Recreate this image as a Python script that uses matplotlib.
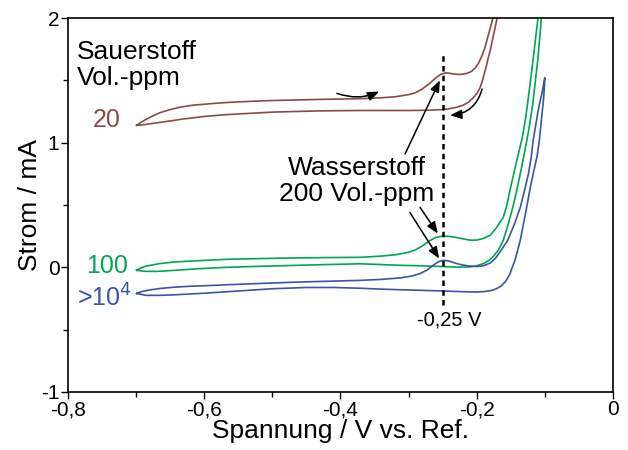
"""Cyclic voltammograms for three oxygen concentrations with hydrogen peak."""
import matplotlib
matplotlib.use('Agg')
import matplotlib.pyplot as plt
from matplotlib.ticker import MultipleLocator, FormatStrFormatter

plt.rcParams['font.family'] = ['Liberation Sans', 'DejaVu Sans']
plt.rcParams['axes.unicode_minus'] = False

BROWN = '#8a4a4a'
GREEN = '#00a651'
BLUE = '#3a55a5'

# 20 Vol.-ppm oxygen: forward scan then return scan
o2_20_x = [-0.699, -0.692, -0.684, -0.675, -0.665, -0.65, -0.635, -0.617,
           -0.59, -0.567, -0.53, -0.50, -0.46, -0.43, -0.40, -0.37, -0.34,
           -0.32, -0.30, -0.29, -0.28, -0.27, -0.26, -0.252, -0.245, -0.238,
           -0.23, -0.222, -0.215, -0.208, -0.202, -0.197, -0.192, -0.188,
           -0.184, -0.180, -0.176, -0.172, -0.169,
           -0.168, -0.170, -0.173, -0.177, -0.180, -0.183, -0.186, -0.189,
           -0.192, -0.195, -0.199, -0.205, -0.212, -0.22, -0.23, -0.24,
           -0.249, -0.27, -0.30, -0.37, -0.43, -0.50, -0.567, -0.60, -0.63,
           -0.655, -0.675, -0.69, -0.699]
o2_20_y = [1.139, 1.165, 1.19, 1.215, 1.24, 1.265, 1.285, 1.30,
           1.313, 1.322, 1.332, 1.338, 1.343, 1.347, 1.35, 1.353, 1.36,
           1.368, 1.385, 1.40, 1.43, 1.47, 1.52, 1.55, 1.56, 1.555,
           1.548, 1.548, 1.555, 1.57, 1.60, 1.64, 1.70, 1.76,
           1.84, 1.92, 2.0, 2.1, 2.18,
           2.1, 2.0, 1.92, 1.82, 1.74, 1.68, 1.61, 1.55,
           1.49, 1.44, 1.40, 1.36, 1.325, 1.30, 1.283, 1.272,
           1.266, 1.26, 1.258, 1.258, 1.255, 1.245, 1.225, 1.21, 1.19,
           1.17, 1.155, 1.143, 1.139]

# 100 Vol.-ppm oxygen
o2_100_x = [-0.699, -0.693, -0.685, -0.675, -0.665, -0.645, -0.62, -0.59,
            -0.567, -0.52, -0.47, -0.42, -0.371, -0.34, -0.32, -0.30, -0.29,
            -0.28, -0.27, -0.26, -0.25, -0.24, -0.23, -0.22, -0.21, -0.20,
            -0.19, -0.18, -0.172, -0.166, -0.161, -0.156, -0.151, -0.146,
            -0.141, -0.137, -0.133, -0.128, -0.122, -0.116, -0.110, -0.106,
            -0.103, -0.105, -0.110, -0.117, -0.122, -0.127, -0.132, -0.136,
            -0.141, -0.147, -0.154, -0.161, -0.168, -0.175, -0.182, -0.19,
            -0.20, -0.21, -0.23, -0.249, -0.28, -0.312, -0.34, -0.371, -0.42,
            -0.47, -0.52, -0.567, -0.61, -0.645, -0.67, -0.688, -0.699]
o2_100_y = [-0.024, -0.005, 0.01, 0.02, 0.03, 0.042, 0.05, 0.058,
            0.064, 0.07, 0.075, 0.078, 0.08, 0.09, 0.10, 0.12, 0.14,
            0.17, 0.21, 0.24, 0.25, 0.248, 0.24, 0.228, 0.218, 0.218,
            0.232, 0.257, 0.31, 0.36, 0.40, 0.49, 0.62, 0.74,
            0.86, 0.95, 1.04, 1.2, 1.45, 1.72, 2.0, 2.2,
            2.2, 2.0, 1.68, 1.34, 1.15, 1.0, 0.86, 0.75,
            0.62, 0.48, 0.34, 0.216, 0.14, 0.09, 0.055, 0.03,
            0.012, 0.003, 0.002, 0.006, 0.012, 0.016, 0.022, 0.028, 0.022,
            0.015, 0.008, 0.0, -0.012, -0.025, -0.033, -0.032, -0.024]

# >10^4 Vol.-ppm oxygen
o2_1e4_x = [-0.699, -0.693, -0.685, -0.675, -0.665, -0.645, -0.62, -0.59,
            -0.567, -0.52, -0.47, -0.42, -0.371, -0.34, -0.312, -0.295,
            -0.283, -0.272, -0.264, -0.256, -0.249, -0.242, -0.235, -0.228,
            -0.22, -0.21, -0.20, -0.19, -0.18, -0.172, -0.165, -0.155,
            -0.145, -0.136, -0.13, -0.124, -0.12, -0.117, -0.113, -0.110,
            -0.107, -0.104, -0.102, -0.100,
            -0.1005, -0.102, -0.105, -0.108, -0.111, -0.115, -0.119, -0.122,
            -0.128, -0.136, -0.143, -0.151, -0.157, -0.164, -0.172, -0.18,
            -0.19, -0.20, -0.22, -0.249, -0.28, -0.312, -0.34, -0.371, -0.41,
            -0.45, -0.50, -0.55, -0.60, -0.64, -0.665, -0.685, -0.699]
o2_1e4_y = [-0.21, -0.197, -0.187, -0.178, -0.17, -0.16, -0.152, -0.146,
            -0.14, -0.13, -0.12, -0.112, -0.105, -0.097, -0.085, -0.07,
            -0.05, -0.02, 0.016, 0.045, 0.056, 0.052, 0.04, 0.028,
            0.018, 0.01, 0.006, 0.012, 0.035, 0.075, 0.13, 0.21,
            0.34, 0.48, 0.61, 0.75, 0.88, 1.02, 1.15, 1.25,
            1.33, 1.40, 1.46, 1.52,
            1.45, 1.34, 1.18, 1.02, 0.90, 0.80, 0.70, 0.62,
            0.44, 0.216, 0.07, -0.05, -0.11, -0.15, -0.175, -0.188,
            -0.195, -0.198, -0.196, -0.19, -0.185, -0.18, -0.175, -0.168,
            -0.162, -0.162, -0.172, -0.19, -0.208, -0.22, -0.225, -0.225, -0.21]

peak_potential = -0.25


def main():
    fig = plt.figure(figsize=(6.28, 4.5), dpi=100)
    ax = fig.add_axes([0.108, 0.129, 0.868, 0.831])

    # Curves
    ax.plot(o2_20_x, o2_20_y, color=BROWN, lw=1.2)
    ax.plot(o2_100_x, o2_100_y, color=GREEN, lw=1.2)
    ax.plot(o2_1e4_x, o2_1e4_y, color=BLUE, lw=1.2)

    # Peak marker
    ax.plot([peak_potential, peak_potential], [-0.305, 1.716], color='black',
            lw=1.8, linestyle=(0, (2.2, 1.7)))

    # Axes setup
    ax.set_xlim(-0.8, 0)
    ax.set_ylim(-1, 2)
    ax.xaxis.set_major_locator(MultipleLocator(0.2))
    ax.xaxis.set_minor_locator(MultipleLocator(0.1))
    ax.yaxis.set_major_locator(MultipleLocator(1))
    ax.yaxis.set_minor_locator(MultipleLocator(0.5))
    ax.xaxis.set_major_formatter(
        plt.FuncFormatter(lambda v, p: ('%g' % round(v, 2)).replace('.', ',')))
    ax.yaxis.set_major_formatter(FormatStrFormatter('%d'))
    ax.tick_params(which='both', direction='out', labelsize=15, pad=1,
                   top=False, right=False)
    ax.tick_params(which='major', length=5, width=1)
    ax.tick_params(which='minor', length=3.5, width=1)
    for spine in ax.spines.values():
        spine.set_linewidth(1.2)

    ax.set_xlabel('Spannung / V vs. Ref.', fontsize=19, labelpad=0)
    ax.set_ylabel('Strom / mA', fontsize=19, labelpad=-1)

    # Labels
    ax.text(-0.787, 1.62, 'Sauerstoff\nVol.-ppm', fontsize=19, ha='left',
            va='center', linespacing=1.1)
    ax.text(-0.722, 1.18, '20', fontsize=18, color=BROWN, ha='right',
            va='center')
    ax.text(-0.712, 0.01, '100', fontsize=18, color=GREEN, ha='right',
            va='center')
    ax.text(-0.706, -0.25, '>10$^4$', fontsize=18, color=BLUE, ha='right',
            va='center')
    ax.text(-0.376, 0.69, 'Wasserstoff\n200 Vol.-ppm', fontsize=19,
            ha='center', va='center', linespacing=1.1)
    ax.text(-0.24, -0.425, '-0,25 V', fontsize=14.5, ha='center',
            va='center')

    # Arrows
    arrow = dict(arrowstyle='-|>,head_length=0.7,head_width=0.28',
                 color='black', lw=1.1, shrinkA=0, shrinkB=0)
    ax.annotate('', xy=(-0.343, 1.41), xytext=(-0.405, 1.395),
                arrowprops=dict(arrow, connectionstyle='arc3,rad=0.2'))
    ax.annotate('', xy=(-0.239, 1.22), xytext=(-0.192, 1.43),
                arrowprops=dict(arrow, connectionstyle='arc3,rad=-0.35'))
    ax.annotate('', xy=(-0.254, 1.50), xytext=(-0.305, 0.91),
                arrowprops=arrow)
    ax.annotate('', xy=(-0.257, 0.27), xytext=(-0.283, 0.48),
                arrowprops=arrow)
    ax.annotate('', xy=(-0.255, 0.07), xytext=(-0.298, 0.44),
                arrowprops=arrow)

    fig.savefig('out.png', dpi=100)
    plt.close(fig)


if __name__ == '__main__':
    main()
